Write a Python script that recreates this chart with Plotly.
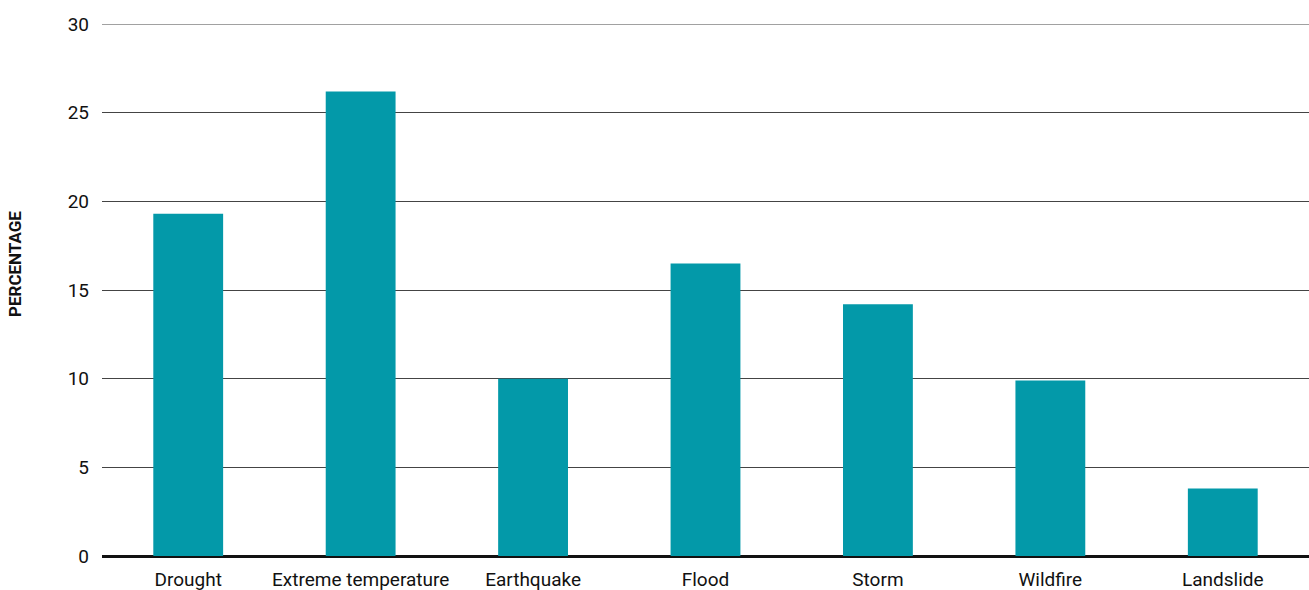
import plotly.graph_objects as go

categories = ["Drought", "Extreme temperature", "Earthquake", "Flood", "Storm", "Wildfire", "Landslide"]
values = [19.3, 26.2, 10.0, 16.5, 14.2, 9.9, 3.8]
y_ticks = [0, 5, 10, 15, 20, 25, 30]

fig = go.Figure(go.Bar(
    x=categories, y=values,
    marker=dict(color="#0399A9", line=dict(width=0)),
    hoverinfo="x+y",
))

fig.update_layout(
    width=1309, height=590,
    margin=dict(l=102, r=0, t=24, b=34, autoexpand=False),
    paper_bgcolor="white", plot_bgcolor="white",
    bargap=0.595,
    font=dict(family="Roboto, sans-serif", size=19, color="#111"),
    showlegend=False,
    xaxis=dict(showgrid=False, ticks="", showline=False, ticklabelstandoff=10,
               automargin=False),
    yaxis=dict(
        range=[0, 30], tickvals=y_ticks, ticks="", ticklabelstandoff=12,
        showgrid=True, gridcolor="#444", gridwidth=1,
        zeroline=True, zerolinecolor="#111", zerolinewidth=2.5,
        automargin=False,
    ),
    shapes=[dict(type="line", xref="paper", yref="y", x0=0, x1=1,
                 y0=y_ticks[-1], y1=y_ticks[-1], line=dict(color="#444", width=1))],
    annotations=[dict(
        text="<b>PERCENTAGE</b>", textangle=-90, showarrow=False,
        xref="paper", yref="paper",
        x=(15 - 102) / (1309 - 102), y=(590 - 264 - 34) / (590 - 24 - 34),
        xanchor="center", yanchor="middle",
        font=dict(size=17),
    )],
)
fig.write_html("out.html", config={"displayModeBar": False},
               post_script="document.body.style.margin='0';")
